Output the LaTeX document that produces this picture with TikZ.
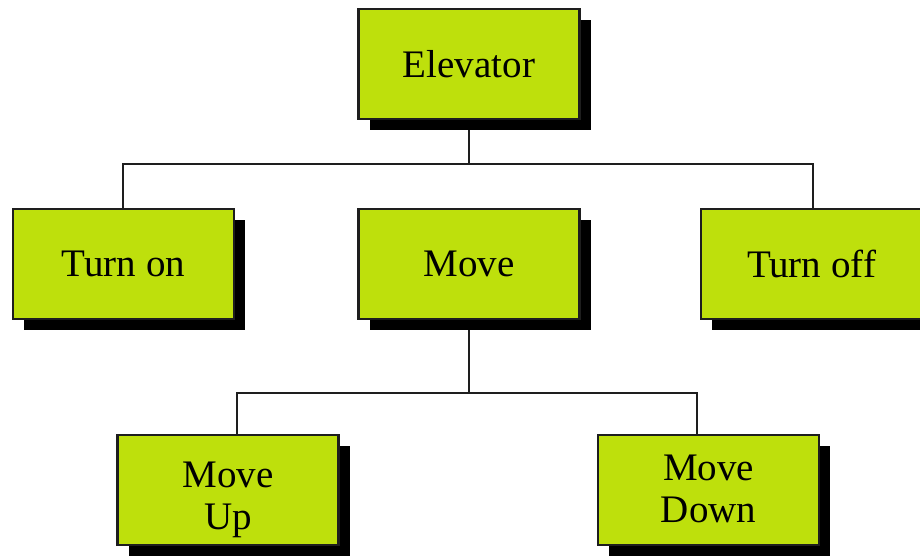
\documentclass[tikz,border=0pt]{standalone}
\usepackage{fontspec}
\setmainfont{Liberation Serif}
\usetikzlibrary{shadows,backgrounds}
\definecolor{boxgreen}{RGB}{190,224,12}
\definecolor{edgegray}{RGB}{30,30,30}
\newcommand{\twolines}[3]{\raisebox{#3}[\height][\depth]{\begin{tabular}{@{}c@{}}#1\\#2\end{tabular}}}
\tikzset{
  blockbox/.style={draw=edgegray, line width=2.5pt, fill=boxgreen,
    minimum width=221pt, minimum height=110pt, inner sep=0pt,
    align=center, font=\fontsize{39}{42}\selectfont,
    drop shadow={shadow xshift=11pt, shadow yshift=-11pt, fill=black, opacity=1}},
  link/.style={draw=edgegray, line width=2pt}
}
\begin{document}
\begin{tikzpicture}[x=1pt,y=-1pt]
\useasboundingbox (0,0) rectangle (920,555);
\clip (0,0) rectangle (920,555);
\node[blockbox] (elev) at (469,64) {Elevator};
\node[blockbox] (ton) at (123.5,264) {Turn on};
\node[blockbox] (move) at (469,264) {Move};
\node[blockbox] (toff) at (811.5,264) {Turn off};
\node[blockbox] (mu) at (228,490) {\twolines{Move}{Up}{-10pt}};
\node[blockbox] (md) at (708.5,490) {\twolines{Move}{Down}{-3pt}};
\coordinate (j1) at (469,164);
\coordinate (j2) at (469,393);
\begin{pgfonlayer}{background}
\draw[link] (elev.south) -- (j1);
\draw[link] (j1) -| ([xshift=-0.5pt]ton.north);
\draw[link] (j1) -| ([xshift=1.5pt]toff.north);
\draw[link] (move.south) -- (j2);
\draw[link] (j2) -| ([xshift=9pt]mu.north);
\draw[link] (j2) -| ([xshift=-11.5pt]md.north);
\end{pgfonlayer}
\end{tikzpicture}
\end{document}
